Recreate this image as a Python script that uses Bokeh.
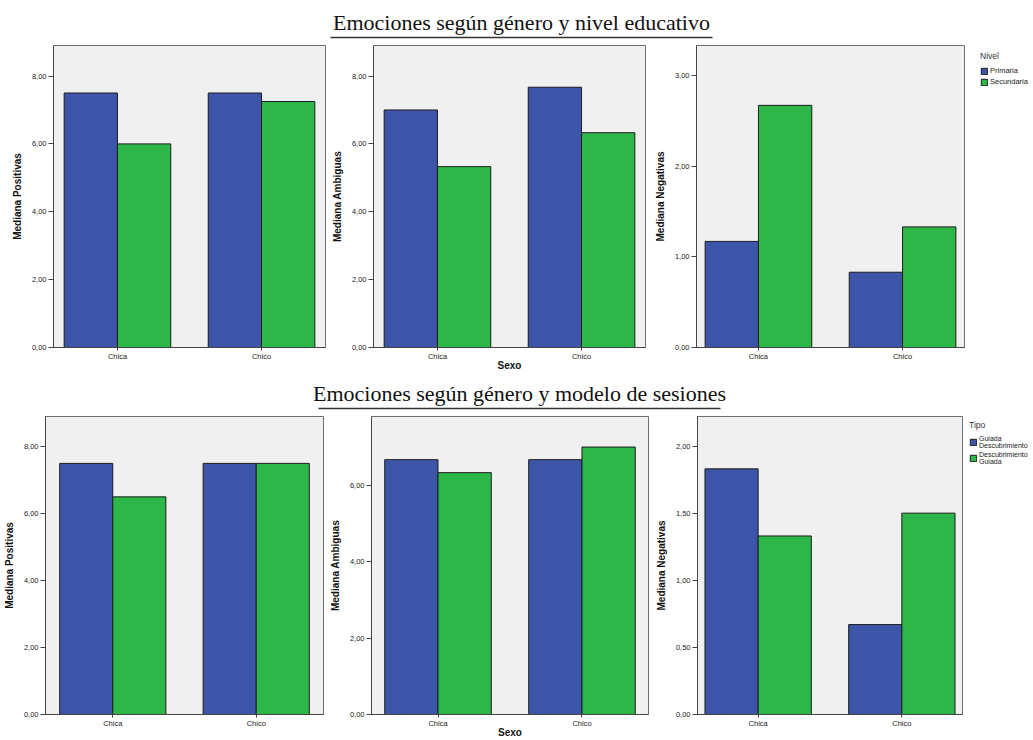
from bokeh.plotting import figure
from bokeh.layouts import row, column
from bokeh.models import (ColumnDataSource, FactorRange, Range1d, FixedTicker,
                          Legend, LegendItem)
from bokeh.transform import dodge
from bokeh.core.properties import value
from bokeh.embed import file_html
from bokeh.resources import INLINE

# ---------------- data ----------------
sexo = ["Chica", "Chico"]

titulo_1 = "Emociones según género y nivel educativo"
titulo_2 = "Emociones según género y modelo de sesiones"

nivel_title = "Nivel"
nivel_labels = ["Primaria", "Secundaria"]
pos_primaria = [7.5, 7.5]
pos_secundaria = [6.0, 7.25]
amb_primaria = [7.0, 7.67]
amb_secundaria = [5.33, 6.33]
neg_primaria = [1.17, 0.83]
neg_secundaria = [2.67, 1.33]

tipo_title = "Tipo"
tipo_labels = ["Guiada\nDescubrimiento", "Descubrimiento\nGuiada"]
pos_guiada = [7.5, 7.5]
pos_descub = [6.5, 7.5]
amb_guiada = [6.67, 6.67]
amb_descub = [6.33, 7.0]
neg_guiada = [1.83, 0.67]
neg_descub = [1.33, 1.5]

ylabels = ["Mediana Positivas", "Mediana Ambiguas", "Mediana Negativas"]
xlabel = "Sexo"

ticks_8 = [0, 2, 4, 6, 8]
ticks_8_labels = ["0,00", "2,00", "4,00", "6,00", "8,00"]
ticks_6 = [0, 2, 4, 6]
ticks_6_labels = ["0,00", "2,00", "4,00", "6,00"]
ticks_3 = [0, 1, 2, 3]
ticks_3_labels = ["0,00", "1,00", "2,00", "3,00"]
ticks_2 = [0, 0.5, 1, 1.5, 2]
ticks_2_labels = ["0,00", "0,50", "1,00", "1,50", "2,00"]

# ---------------- style ----------------
BLUE = "#3d55a8"
GREEN = "#2eb749"
EDGE = "#1c1c1c"
BG = "#f0f0f0"
FRAME = "#6e6e6e"
AXIS = "#444444"
SANS = "Liberation Sans"
SERIF = "Liberation Serif"
W = 1033


def make_panel(a, b, ylabel, ymax, ticks, tick_labels, width, height,
               bl, br, bt, bb, pad, show_xlabel=False):
    src = ColumnDataSource(data=dict(sexo=sexo, a=a, b=b))
    xr = FactorRange(factors=sexo, range_padding=pad,
                     range_padding_units="absolute")
    p = figure(x_range=xr, y_range=Range1d(0, ymax), width=width, height=height,
               output_backend="svg", toolbar_location=None,
               min_border_left=bl, min_border_right=br,
               min_border_top=bt, min_border_bottom=bb,
               background_fill_color=BG, border_fill_color="white",
               outline_line_color=FRAME, outline_line_width=1)
    p.vbar(x=dodge("sexo", -0.185, range=p.x_range), top="a", width=0.37,
           source=src, fill_color=BLUE, line_color=EDGE, line_width=1)
    p.vbar(x=dodge("sexo", 0.185, range=p.x_range), top="b", width=0.37,
           source=src, fill_color=GREEN, line_color=EDGE, line_width=1)
    p.grid.visible = False

    ya = p.yaxis[0]
    ya.ticker = FixedTicker(ticks=ticks)
    ya.major_label_overrides = dict(zip(ticks, tick_labels))
    ya.axis_label = ylabel
    ya.axis_label_text_font = SANS
    ya.axis_label_text_font_size = "10px"
    ya.axis_label_text_font_style = "bold"
    ya.axis_label_text_color = "#111111"
    ya.axis_label_standoff = 6
    ya.major_label_text_font = SANS
    ya.major_label_text_font_size = "7.5px"
    ya.major_label_text_color = "#222222"
    ya.major_label_standoff = 2
    ya.major_tick_out = 5
    ya.major_tick_in = 0
    ya.minor_tick_line_color = None
    ya.axis_line_color = AXIS
    ya.major_tick_line_color = AXIS

    xa = p.xaxis[0]
    xa.major_label_text_font = SANS
    xa.major_label_text_font_size = "7.5px"
    xa.major_label_text_color = "#222222"
    xa.major_label_standoff = 1
    xa.major_tick_out = 3
    xa.major_tick_in = 0
    xa.axis_line_color = AXIS
    xa.major_tick_line_color = AXIS
    if show_xlabel:
        xa.axis_label = xlabel
        xa.axis_label_text_font = SANS
        xa.axis_label_text_font_size = "10px"
        xa.axis_label_text_font_style = "bold"
        xa.axis_label_text_color = "#111111"
        xa.axis_label_standoff = -4
    return p


def make_legend(width, height, title, labels, margin, padding, font_size):
    lf = figure(width=width, height=height, x_range=Range1d(0, 1),
                y_range=Range1d(0, 1), x_axis_type=None, y_axis_type=None,
                output_backend="svg", toolbar_location=None, min_border=0,
                outline_line_color=None, background_fill_color="white",
                border_fill_color="white")
    lf.grid.visible = False
    # swatch carriers placed outside the visible range (only their legend shows)
    hidden = ColumnDataSource(data=dict(x=[10], top=[0.5]))
    r1 = lf.vbar(x="x", top="top", width=0.1, source=hidden,
                 fill_color=BLUE, line_color=EDGE)
    r2 = lf.vbar(x="x", top="top", width=0.1, source=hidden,
                 fill_color=GREEN, line_color=EDGE)
    leg = Legend(items=[LegendItem(label=value(labels[0]), renderers=[r1]),
                        LegendItem(label=value(labels[1]), renderers=[r2])],
                 title=title, location="top_left", orientation="vertical",
                 border_line_color=None, background_fill_alpha=0,
                 label_text_font=SANS, label_text_font_size=font_size,
                 label_text_color="#1a1a1a",
                 title_text_font=SANS, title_text_font_size="8.5px",
                 title_text_font_style="normal", title_text_color="#333333",
                 glyph_width=8, glyph_height=8, label_height=8,
                 label_standoff=2, spacing=2, padding=padding, margin=margin,
                 title_standoff=5)
    lf.add_layout(leg)
    return lf


def make_title(text, h, middle, line_y, x0, x1):
    t = figure(width=W, height=h, x_range=Range1d(0, W), y_range=Range1d(h, 0),
               x_axis_type=None, y_axis_type=None, output_backend="svg",
               toolbar_location=None, min_border=0, outline_line_color=None,
               background_fill_color="white", border_fill_color="white")
    t.grid.visible = False
    t.text(x=[(x0 + x1) / 2], y=[middle], text=[text], text_font=value(SERIF),
           text_font_size="22px", text_align="center",
           text_baseline="middle", text_color="#111111")
    t.segment(x0=[x0], y0=[line_y], x1=[x1], y1=[line_y],
              line_color="#333333", line_width=1.3)
    return t


# ---------------- layout ----------------
H1 = 333
p1 = make_panel(pos_primaria, pos_secundaria, ylabels[0], 8.9, ticks_8, ticks_8_labels,
                328, H1, 53, 3, 5, 26, -0.056)
p2 = make_panel(amb_primaria, amb_secundaria, ylabels[1], 8.9, ticks_8, ticks_8_labels,
                320, H1, 45, 3, 5, 26, -0.056, show_xlabel=True)
p3 = make_panel(neg_primaria, neg_secundaria, ylabels[2], 3.33, ticks_3, ticks_3_labels,
                326, H1, 48, 10, 5, 26, -0.07)
lg1 = make_legend(59, H1, nivel_title, nivel_labels, 6, 2, "7.5px")

H2 = 327
p4 = make_panel(pos_guiada, pos_descub, ylabels[0], 8.9, ticks_8, ticks_8_labels,
                326, H2, 44, 3, 3, 25, -0.031)
p5 = make_panel(amb_guiada, amb_descub, ylabels[1], 7.8, ticks_6, ticks_6_labels,
                325, H2, 45, 3, 3, 25, -0.038, show_xlabel=True)
p6 = make_panel(neg_guiada, neg_descub, ylabels[2], 2.22, ticks_2, ticks_2_labels,
                314, H2, 46, 3, 3, 25, -0.078)
lg2 = make_legend(68, H2, tipo_title, tipo_labels, 4, 1, "7px")

t1 = make_title(titulo_1, 40, 22, 37, 330, 712)
t2 = make_title(titulo_2, 40, 20, 35, 318, 720)

layout = column(t1, row(p1, p2, p3, lg1), t2, row(p4, p5, p6, lg2))

open("out.html", "w").write(file_html(layout, INLINE))
